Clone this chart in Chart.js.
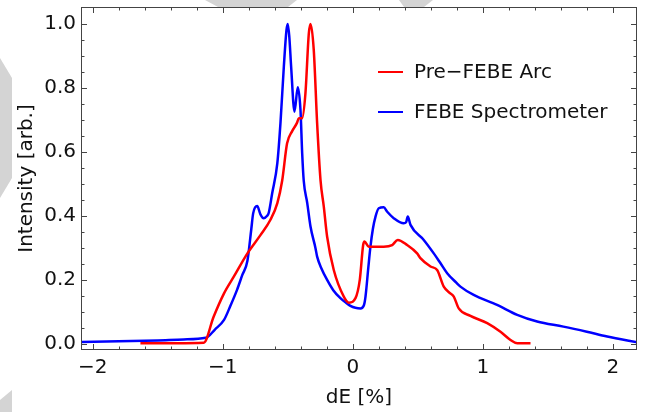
<!DOCTYPE html>
<html>
<head>
<meta charset="utf-8">
<title>Energy spread</title>
<script src="https://cdn.jsdelivr.net/npm/chart.js@4.4.1/dist/chart.umd.min.js"></script>
<style>
  html, body { margin: 0; padding: 0; background: #fff; }
  #wrap { position: relative; width: 649px; height: 412px; }
</style>
</head>
<body>
<div id="wrap"><canvas id="mycanvas" width="649" height="412"></canvas></div>
<script>
// dE [%] and normalised intensity for each measurement
var arcX = [-1.633, -1.146, -1.07, -0.99, -0.915, -0.81, -0.71, -0.633, -0.58, -0.543, -0.505, -0.466, -0.43, -0.415, -0.39, -0.364, -0.338, -0.325, -0.3, -0.274, -0.248, -0.223, -0.197, -0.146, -0.069, -0.03, 0.021, 0.054, 0.08, 0.09, 0.123, 0.238, 0.303, 0.346, 0.418, 0.495, 0.52, 0.598, 0.649, 0.70, 0.75, 0.777, 0.815, 0.905, 1.034, 1.136, 1.213, 1.265, 1.367];
var arcY = [0.002, 0.004, 0.085, 0.158, 0.21, 0.283, 0.34, 0.388, 0.44, 0.51, 0.627, 0.665, 0.69, 0.705, 0.705, 0.783, 0.97, 1.0, 0.919, 0.69, 0.512, 0.43, 0.335, 0.231, 0.148, 0.129, 0.143, 0.2, 0.309, 0.32, 0.304, 0.304, 0.309, 0.325, 0.309, 0.283, 0.268, 0.242, 0.231, 0.179, 0.158, 0.148, 0.111, 0.0875, 0.065, 0.038, 0.0125, 0.002, 0.002];

var specX = [-2.09, -1.8, -1.5, -1.3, -1.13, -1.06, -0.99, -0.94, -0.89, -0.85, -0.81, -0.78, -0.766, -0.735, -0.71, -0.685, -0.66, -0.646, -0.62, -0.58, -0.556, -0.53, -0.51, -0.5, -0.488, -0.474, -0.448, -0.423, -0.402, -0.389, -0.377, -0.35, -0.325, -0.287, -0.274, -0.24, -0.197, -0.15, -0.095, -0.05, -0.018, 0.02, 0.06, 0.085, 0.098, 0.12, 0.136, 0.155, 0.175, 0.2, 0.238, 0.265, 0.315, 0.392, 0.41, 0.423, 0.444, 0.546, 0.623, 0.675, 0.726, 0.80, 0.828, 0.93, 1.11, 1.265, 1.418, 1.62, 1.80, 1.957, 2.19];
var specY = [0.006, 0.008, 0.011, 0.014, 0.019, 0.045, 0.075, 0.12, 0.169, 0.215, 0.26, 0.36, 0.408, 0.431, 0.405, 0.393, 0.40, 0.41, 0.47, 0.565, 0.69, 0.867, 0.98, 1.0, 0.96, 0.867, 0.726, 0.802, 0.731, 0.596, 0.51, 0.44, 0.367, 0.30, 0.273, 0.235, 0.2, 0.168, 0.143, 0.128, 0.119, 0.113, 0.111, 0.12, 0.148, 0.24, 0.304, 0.36, 0.398, 0.424, 0.427, 0.413, 0.393, 0.377, 0.38, 0.398, 0.372, 0.325, 0.283, 0.252, 0.221, 0.19, 0.179, 0.153, 0.122, 0.091, 0.07, 0.054, 0.038, 0.023, 0.005];

var xMajor = [-2, -1, 0, 1, 2];
var xMinor = [-1.8, -1.6, -1.4, -1.2, -0.8, -0.6, -0.4, -0.2, 0.2, 0.4, 0.6, 0.8, 1.2, 1.4, 1.6, 1.8];
var yMajor = [0, 0.2, 0.4, 0.6, 0.8, 1.0];
var yMinor = [0.05, 0.1, 0.15, 0.25, 0.3, 0.35, 0.45, 0.5, 0.55, 0.65, 0.7, 0.75, 0.85, 0.9, 0.95];

function toPoints(xs, ys) {
  var pts = [];
  for (var i in xs) {
    pts.push({x: xs[i], y: ys[i]});
  }
  return pts;
}

var FONT = "'DejaVu Sans', sans-serif";

// light grey shapes behind the plot
var backdrop = {
  id: 'backdrop',
  beforeDraw: function(chart) {
    var c = chart.ctx;
    var shapes = [
      [[205, 0], [297, 0], [288, 7], [218, 7]],
      [[399, 0], [433, 0], [424, 7], [404, 7]],
      [[0, 58], [12, 78], [12, 178], [0, 198]],
      [[0, 400], [12, 390], [12, 412], [0, 412]]
    ];
    c.save();
    c.fillStyle = '#d4d4d4';
    shapes.forEach(function(s) {
      c.beginPath();
      c.moveTo(s[0][0], s[0][1]);
      for (var k = 1; k < s.length; k++) c.lineTo(s[k][0], s[k][1]);
      c.closePath();
      c.fill();
    });
    c.restore();
  }
};

// frame with inward ticks on all four sides, plus the legend
var frame = {
  id: 'frame',
  afterDraw: function(chart) {
    var c = chart.ctx;
    var a = chart.chartArea;
    var xs = chart.scales.x, ys = chart.scales.y;
    c.save();
    c.strokeStyle = '#444';
    c.lineWidth = 1;
    c.strokeRect(a.left + 0.5, a.top + 0.5, a.right - a.left - 1, a.bottom - a.top - 1);

    function xt(v, len) {
      var p = Math.round(xs.getPixelForValue(v)) + 0.5;
      c.beginPath();
      c.moveTo(p, a.bottom); c.lineTo(p, a.bottom - len);
      c.moveTo(p, a.top); c.lineTo(p, a.top + len);
      c.stroke();
    }
    function yt(v, len) {
      var p = Math.round(ys.getPixelForValue(v)) + 0.5;
      c.beginPath();
      c.moveTo(a.left, p); c.lineTo(a.left + len, p);
      c.moveTo(a.right, p); c.lineTo(a.right - len, p);
      c.stroke();
    }
    xMajor.forEach(function(v) { xt(v, 6); });
    xMinor.forEach(function(v) { xt(v, 3.5); });
    yMajor.forEach(function(v) { yt(v, 6); });
    yMinor.forEach(function(v) { yt(v, 3.5); });

    // legend
    var lx = a.left + 297, ly = a.top + 65;
    c.font = '20px ' + FONT;
    c.textBaseline = 'middle';
    c.textAlign = 'left';
    chart.data.datasets.forEach(function(ds, i) {
      var y = ly + i * 40;
      c.strokeStyle = ds.borderColor;
      c.lineWidth = 2;
      c.beginPath();
      c.moveTo(lx, y); c.lineTo(lx + 25, y);
      c.stroke();
      c.fillStyle = '#111';
      c.fillText(ds.label, lx + 36, y + 1);
    });
    c.restore();
  }
};

var ctx = document.getElementById('mycanvas');

var chart = new Chart(ctx, {
  type: 'scatter',
  data: {
    datasets: [
      {
        label: 'Pre\u2212FEBE Arc',
        data: toPoints(arcX, arcY),
        borderColor: '#ff0000',
        backgroundColor: '#ff0000',
        showLine: true,
        borderWidth: 2.5,
        pointRadius: 0,
        cubicInterpolationMode: 'monotone'
      },
      {
        label: 'FEBE Spectrometer',
        data: toPoints(specX, specY),
        borderColor: '#0000ff',
        backgroundColor: '#0000ff',
        showLine: true,
        borderWidth: 2.5,
        pointRadius: 0,
        cubicInterpolationMode: 'monotone'
      }
    ]
  },
  options: {
    responsive: false,
    animation: false,
    events: [],
    layout: { padding: { left: 0, top: 7, right: 12, bottom: 0 } },
    plugins: {
      legend: { display: false },
      tooltip: { enabled: false }
    },
    scales: {
      x: {
        type: 'linear',
        min: -2.09,
        max: 2.186,
        grid: { display: false, drawTicks: false },
        border: { display: false },
        afterBuildTicks: function(scale) {
          scale.ticks = xMajor.map(function(v) { return {value: v}; });
        },
        afterFit: function(scale) {
          scale.height = 62;
          scale.paddingLeft = 0;
          scale.paddingRight = 0;
        },
        ticks: {
          autoSkip: false,
          maxRotation: 0,
          padding: 6,
          color: '#111',
          font: { family: FONT, size: 20 },
          callback: function(v) { return v < 0 ? '\u2212' + Math.abs(v) : String(v); }
        },
        title: {
          display: true,
          text: 'dE [%]',
          color: '#111',
          font: { family: FONT, size: 20 },
          padding: { top: 0, bottom: 2 }
        }
      },
      y: {
        type: 'linear',
        min: -0.019,
        max: 1.053,
        grid: { display: false, drawTicks: false },
        border: { display: false },
        afterBuildTicks: function(scale) {
          scale.ticks = yMajor.map(function(v) { return {value: v}; });
        },
        afterFit: function(scale) {
          scale.width = 81;
          scale.paddingTop = 0;
          scale.paddingBottom = 0;
        },
        ticks: {
          autoSkip: false,
          padding: 5,
          color: '#111',
          font: { family: FONT, size: 20 },
          callback: function(v) { return v.toFixed(1); }
        },
        title: {
          display: true,
          text: 'Intensity [arb.]',
          color: '#111',
          font: { family: FONT, size: 20 },
          padding: { top: 15, bottom: 0 }
        }
      }
    }
  },
  plugins: [backdrop, frame]
});
</script>
</body>
</html>
